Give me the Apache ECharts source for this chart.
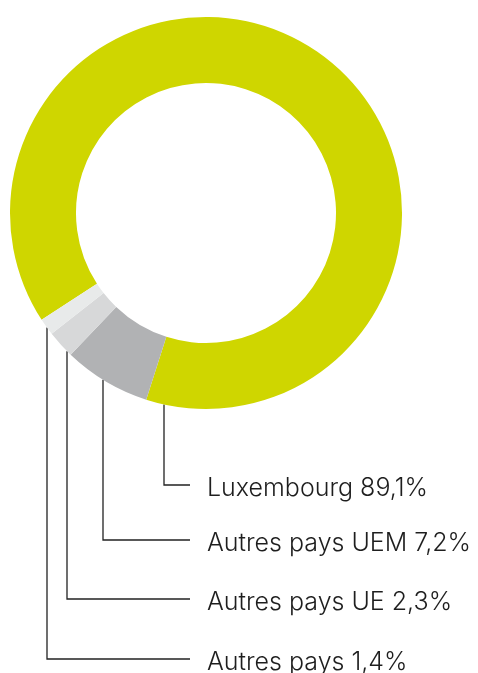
<!DOCTYPE html>
<html>
<head>
<meta charset="utf-8">
<script src="https://cdn.jsdelivr.net/npm/echarts@6/dist/echarts.min.js"></script>
<style>
  html, body { margin: 0; padding: 0; background: #fff; }
  #chart { width: 478px; height: 673px; }
</style>
</head>
<body>
<div id="chart"></div>
<script>
const names = ["Luxembourg", "Autres pays UEM", "Autres pays UE", "Autres pays"]
const shares = [89.1, 7.2, 2.3, 1.4]
const colors = ["#cfd600", "#b1b2b4", "#d7d8d9", "#e8eaea"]

// label placement (leader lines drop from the ring, then run right)
const cx = 206, cy = 213, rOut = 196, rIn = 130
const anchorX = [164, 103, 67, 47]
const labelY = [485, 540, 599, 659]
const textX = 207, lineEndX = 190

const chart = echarts.init(document.getElementById("chart"))
chart.setOption({
  animation: false,
  series: [
    {
      type: "pie",
      center: [cx, cy],
      radius: [rIn, rOut],
      startAngle: 213,
      clockwise: true,
      avoidLabelOverlap: false,
      silent: true,
      data: names.map((n, i) => ({ name: n, value: shares[i], itemStyle: { color: colors[i] } })),
      label: {
        show: true,
        position: "outside",
        color: "#1e1e1e",
        fontFamily: "Inter",
        fontWeight: 300,
        fontSize: 25,
        formatter: p => p.name + " " + String(p.value).replace(".", ",") + "%"
      },
      labelLine: {
        show: true,
        lineStyle: { color: "#222", width: 1.3 }
      },
      labelLayout: params => {
        const i = params.dataIndex
        const x = anchorX[i]
        const yArc = cy + Math.sqrt(rOut * rOut - (x - cx) * (x - cx))
        return {
          x: textX,
          y: labelY[i] + 3,
          align: "left",
          verticalAlign: "middle",
          labelLinePoints: [[x, yArc], [x, labelY[i]], [lineEndX, labelY[i]]]
        }
      }
    }
  ]
})
</script>
</body>
</html>
